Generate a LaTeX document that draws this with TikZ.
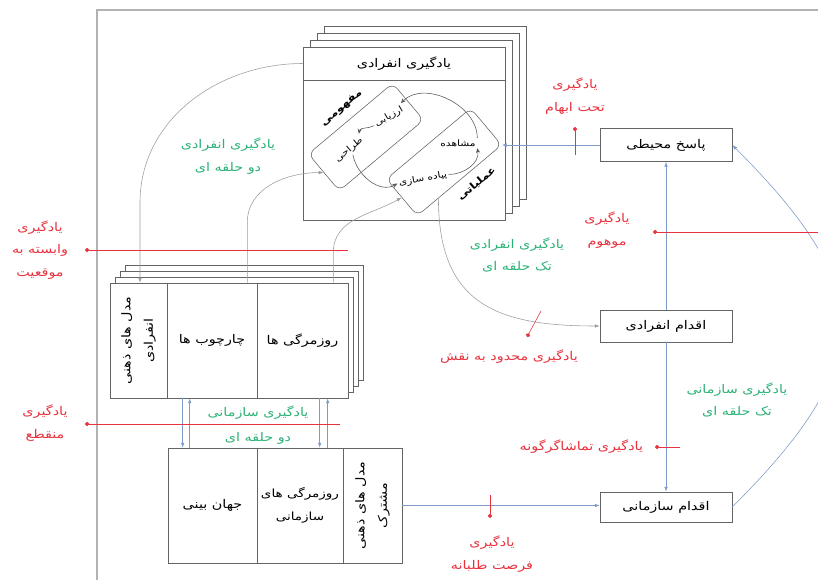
\documentclass[tikz,border=0pt]{standalone}
\usepackage{fontspec}
\usepackage{tikz}
\usetikzlibrary{positioning, arrows.meta, calc}
\TeXXeTstate=1
\newfontfamily\farsifont[Script=Arabic, FakeStretch=1.2]{DejaVu Sans}
\newcommand{\fatext}[1]{{\farsifont\beginR #1\endR}}
\definecolor{FrameGray}{RGB}{178,178,178}
\definecolor{BoxGray}{RGB}{100,100,100}
\definecolor{LinkBlue}{RGB}{125,155,200}
\definecolor{ArcGray}{RGB}{155,155,165}
\definecolor{GapRed}{RGB}{232,50,62}
\definecolor{LoopGreen}{RGB}{45,178,118}
\tikzset{
  box/.style={draw=BoxGray, fill=white, inner sep=1pt, font=\fontsize{8.5}{16}\selectfont, align=center},
  page/.style={draw=BoxGray, fill=white},
  mode/.style={draw=BoxGray, rounded corners=5pt, rotate=40, minimum width=2.75cm, minimum height=1.2cm},
  link/.style={LinkBlue, -{Latex[length=3.5pt, width=2.5pt]}},
  arc/.style={ArcGray, -{Latex[length=3.5pt, width=2.5pt]}},
  cyc/.style={black!65, -{Stealth[length=3.5pt, width=3pt]}},
  gap/.style={GapRed, {Circle[length=3pt]}-},
  gaplabel/.style={GapRed, font=\fontsize{8.5}{16}\selectfont, align=center},
  looplabel/.style={LoopGreen, font=\fontsize{8.5}{16}\selectfont, align=center},
  innertext/.style={font=\fontsize{6.3}{8}\selectfont, inner sep=1pt},
  kind/.style={font=\fontsize{7}{9}\selectfont\bfseries, inner sep=6pt},
}

\begin{document}
\begin{tikzpicture}[x=0.025cm, y=-0.025cm, >=Latex, thin]
  \useasboundingbox (0,0) rectangle (818,580);
  % Frame
  \draw[FrameGray, line width=1.2pt] (818,10) -- (97,10) -- (97,580);
  % Individual learning stack
  \foreach \i in {3,2,1} {\draw[page] (303+7*\i, 47-7*\i) rectangle (505+7*\i, 220-7*\i);}
  \node[box, minimum width=5.05cm, minimum height=0.825cm] (hdr) at (404,63.5) {\fatext{یادگیری انفرادی}};
  \node[box, minimum width=5.05cm, minimum height=3.5cm] (body) at (404,150) {};
  \node[mode] (concept) at (366,137) {};
  \node[mode] (oper) at (444,162) {};
  \node[kind, rotate=40, anchor=south] (conceptlbl) at (concept.north) {\fatext{مفهومی}};
  \node[kind, rotate=40, anchor=north] (operlbl) at ($(oper.south)!0.2!(oper.south east)$) {\fatext{عملیاتی}};
  \node[innertext, rotate=30] (eval) at (389,117) {\fatext{ارزیابی}};
  \node[innertext, rotate=40] (design) at (349,150) {\fatext{طراحی}};
  \node[innertext] (obs) at (458,143) {\fatext{مشاهده}};
  \node[innertext, rotate=10] (impl) at (423,179) {\fatext{پیاده سازی}};
  % Cycle
  \draw[cyc] (obs.north east) to[out=90, in=45] (eval.north east);
  \draw[cyc] (eval.west) to[out=210, in=80] (design.north east);
  \draw[cyc] (design.south) to[out=-80, in=210] (impl.west);
  \draw[cyc] (impl.east) to[out=0, in=-80] (obs.south east);
  % Actions
  \node[box, minimum width=3.3cm, minimum height=0.825cm] (env) at (666,145) {\fatext{پاسخ محیطی}};
  \node[box, minimum width=3.3cm, minimum height=0.8cm] (indact) at (666,326) {\fatext{اقدام انفرادی}};
  \node[box, minimum width=3.3cm, minimum height=0.75cm] (orgact) at (666,507) {\fatext{اقدام سازمانی}};
  % Individual mental models stack
  \foreach \i in {3,2,1} {\draw[page] (110+5*\i, 283-6*\i) rectangle (348+5*\i, 398-6*\i);}
  \node[box, minimum width=1.425cm, minimum height=2.875cm] (mm) at (138.5,340.5) {};
  \node[box, minimum width=2.25cm, minimum height=2.875cm] (fw) at (212,340.5) {\fatext{چارچوب ها}};
  \node[box, minimum width=2.275cm, minimum height=2.875cm] (rt) at (302.5,340.5) {\fatext{روزمرگی ها}};
  \node[box, draw=none, fill=none, rotate=90] (mmtext) at (mm.center) {\fatext{مدل های ذهنی}\\\fatext{انفرادی}};
  % Shared mental models
  \node[box, minimum width=2.225cm, minimum height=2.875cm] (wv) at (212.5,505.5) {\fatext{جهان بینی}};
  \node[box, minimum width=2.15cm, minimum height=2.875cm, font=\fontsize{8}{16}\selectfont] (ort) at (300,505.5) {\fatext{روزمرگی های}\\\fatext{سازمانی}};
  \node[box, minimum width=1.475cm, minimum height=2.875cm] (smm) at (372.5,505.5) {};
  \node[box, draw=none, fill=none, rotate=90] (smmtext) at (smm.center) {\fatext{مدل های ذهنی}\\\fatext{مشترک}};
  % Links
  \draw[link] (env.west) -- (env.west -| oper.south east);
  \draw[link] (indact.north) -- (env.south);
  \draw[link] (indact.south) -- (orgact.north);
  \draw[link] (orgact.east) to[out=45, in=-45, looseness=1.45] (env.east);
  \draw[link] (smm.east) -- (smm.east -| orgact.west);
  \coordinate (d1) at ($(fw.south west)+(16,0)$);
  \coordinate (u1) at ($(fw.south west)+(23,0)$);
  \coordinate (d2) at ($(rt.south west)+(63,0)$);
  \coordinate (u2) at ($(rt.south west)+(71,0)$);
  \draw[link] (d1) -- (d1 |- wv.north);
  \draw[link] (u1 |- wv.north) -- (u1);
  \draw[link] (d2) -- (d2 |- ort.north);
  \draw[link] (u2 |- ort.north) -- (u2);
  % Arcs
  \draw[arc] (hdr.west) to[out=180, in=90] ($(mm.north)+(1.5,-80)$) -- ($(mm.north)+(1.5,0)$);
  \draw[arc] ($(fw.north east)+(-10,0)$) -- ++(0,-60) to[out=90, in=180] (concept.west);
  \draw[arc] ($(rt.north east)+(-15,0)$) -- ++(0,-30) to[out=90, in=210] (oper.west);
  \draw[arc] ($(oper.south)!0.5!(oper.south west)$) to[out=-90, in=180, looseness=1.3] (indact.west);
  % Loop labels
  \node[looplabel] (ind2) at (228,156) {\fatext{یادگیری انفرادی}\\\fatext{دو حلقه ای}};
  \node[looplabel] (ind1) at (517,255) {\fatext{یادگیری انفرادی}\\\fatext{تک حلقه ای}};
  \node[looplabel] (org1) at (737,400) {\fatext{یادگیری سازمانی}\\\fatext{تک حلقه ای}};
  \node[looplabel] (org2) at (258,425) {\fatext{یادگیری سازمانی}\\[2pt]\fatext{دو حلقه ای}};
  % Incomplete learning cycles
  \node[gaplabel] (amb) at (575,96) {\fatext{یادگیری}\\\fatext{تحت ابهام}};
  \node[gaplabel] (ill) at (607,230) {\fatext{یادگیری}\\\fatext{موهوم}};
  \node[gaplabel] (sit) at (40,250) {\fatext{یادگیری}\\\fatext{وابسته به}\\\fatext{موقعیت}};
  \node[gaplabel] (role) at (509,357) {\fatext{یادگیری محدود به نقش}};
  \node[gaplabel] (frag) at (45,423) {\fatext{یادگیری}\\\fatext{منقطع}};
  \node[gaplabel, anchor=east] (aud) at (648,447) {\fatext{یادگیری تماشاگرگونه}};
  \node[gaplabel] (opp) at (492,554) {\fatext{یادگیری}\\\fatext{فرصت طلبانه}};
  \coordinate (ambA) at (575,127); \coordinate (ambB) at (575,155);
  \coordinate (illA) at (653,232); \coordinate (illB) at (818,232);
  \coordinate (sitA) at (85,250); \coordinate (sitB) at (348,250);
  \coordinate (roleA) at (527,337); \coordinate (roleB) at (541,311);
  \coordinate (fragA) at (85,424); \coordinate (fragB) at (340,424);
  \coordinate (audA) at (655,447); \coordinate (audB) at (680,447);
  \coordinate (oppA) at (490,518); \coordinate (oppB) at (490,495);
  \draw[gap] (ambA) -- (ambB);
  \draw[gap] (illA) -- (illB);
  \draw[gap] (sitA) -- (sitB);
  \draw[gap] (roleA) -- (roleB);
  \draw[gap] (fragA) -- (fragB);
  \draw[gap] (audA) -- (audB);
  \draw[gap] (oppA) -- (oppB);
\end{tikzpicture}
\end{document}
